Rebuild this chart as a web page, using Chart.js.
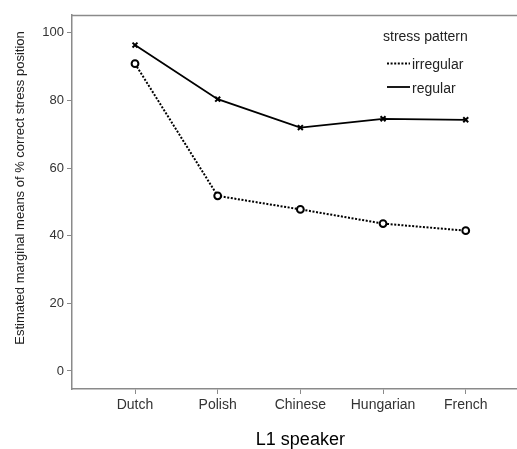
<!DOCTYPE html>
<html>
<head>
<meta charset="utf-8">
<script src="https://cdn.jsdelivr.net/npm/chart.js@4/dist/chart.umd.min.js"></script>
<style>
html,body{margin:0;padding:0;background:#fff;overflow:hidden;}
#wrap{position:relative;width:517px;height:449px;}
</style>
</head>
<body>
<div id="wrap"><canvas id="c" width="517" height="449"></canvas></div>
<script>
const categories = ["Dutch", "Polish", "Chinese", "Hungarian", "French"];
const irregular = [90.9, 51.8, 47.8, 43.6, 41.5];
const regular = [96.4, 80.4, 72.0, 74.6, 74.3];
const seriesNames = ["irregular", "regular"];
const yTicks = [0, 20, 40, 60, 80, 100];
const yTitle = "Estimated marginal means of % correct stress position";
const xTitle = "L1 speaker";
const legendTitle = "stress pattern";

const FONT = "'Liberation Sans', Arial, sans-serif";
const AXIS = "#8a8a8a";

const toPts = arr => arr.map((v, i) => ({x: i, y: v}));

const decor = {
  id: 'decor',
  afterDraw(chart) {
    const ctx = chart.ctx, a = chart.chartArea;
    ctx.save();
    ctx.strokeStyle = AXIS; ctx.lineWidth = 1.5;
    ctx.beginPath(); ctx.moveTo(a.left, a.top + 0.5); ctx.lineTo(a.right, a.top + 0.5); ctx.stroke();
    ctx.fillStyle = "#222";
    ctx.font = "13px " + FONT;
    ctx.textAlign = "center"; ctx.textBaseline = "middle";
    ctx.save(); ctx.translate(20, 188); ctx.rotate(-Math.PI / 2); ctx.fillText(yTitle, 0, 0); ctx.restore();
    ctx.fillStyle = "#000";
    ctx.font = "18px " + FONT;
    const xs = chart.scales.x;
    ctx.fillText(xTitle, xs.getPixelForValue(2), 440);
    ctx.fillStyle = "#222";
    ctx.font = "14px " + FONT;
    ctx.textAlign = "left";
    ctx.fillText(legendTitle, 383, 37);
    const rows = [63.5, 87];
    chart.data.datasets.forEach((ds, i) => {
      const y = rows[i];
      ctx.strokeStyle = "#000"; ctx.lineWidth = ds.borderWidth;
      ctx.setLineDash(ds.borderDash || []);
      ctx.beginPath(); ctx.moveTo(387, y); ctx.lineTo(410, y); ctx.stroke();
      ctx.setLineDash([]);
      ctx.fillText(ds.label, 412, y + 2);
    });
    ctx.restore();
  }
};

new Chart(document.getElementById('c'), {
  type: 'line',
  data: {
    datasets: [
      {
        label: seriesNames[0], data: toPts(irregular),
        borderColor: "#000", borderWidth: 2, borderDash: [2, 1.6],
        pointStyle: 'circle', pointRadius: 3.4, pointBorderWidth: 2,
        pointBackgroundColor: "#fff", pointBorderColor: "#000", tension: 0
      },
      {
        label: seriesNames[1], data: toPts(regular),
        borderColor: "#000", borderWidth: 1.8,
        pointStyle: 'crossRot', pointRadius: 3.5, pointBorderWidth: 2,
        pointBorderColor: "#000", tension: 0
      }
    ]
  },
  options: {
    responsive: false, animation: false,
    layout: {autoPadding: false, padding: {top: 15, left: 0, right: 0, bottom: 0}},
    plugins: {legend: {display: false}, tooltip: {enabled: false}},
    scales: {
      x: {
        type: 'linear', min: -0.762, max: 4.62,
        afterFit: s => { s.height = 60; s.paddingLeft = 0; s.paddingRight = 0; },
        afterBuildTicks: s => { s.ticks = categories.map((c, i) => ({value: i})); },
        ticks: {
          callback: v => categories[v] ?? '',
          font: {size: 14, family: FONT}, color: "#333", padding: 3,
          maxRotation: 0, autoSkip: false
        },
        grid: {drawOnChartArea: false, tickLength: 5, color: AXIS, tickWidth: 1},
        border: {color: AXIS, width: 1.5}
      },
      y: {
        min: -5.33, max: 105.3,
        afterFit: s => { s.width = 72; s.paddingTop = 0; s.paddingBottom = 0; },
        afterBuildTicks: s => { s.ticks = yTicks.map(v => ({value: v})); },
        ticks: {font: {size: 13, family: FONT}, color: "#333", padding: 3},
        grid: {drawOnChartArea: false, tickLength: 5, color: AXIS, tickWidth: 1},
        border: {color: AXIS, width: 1.5}
      }
    }
  },
  plugins: [decor]
});
</script>
</body>
</html>
